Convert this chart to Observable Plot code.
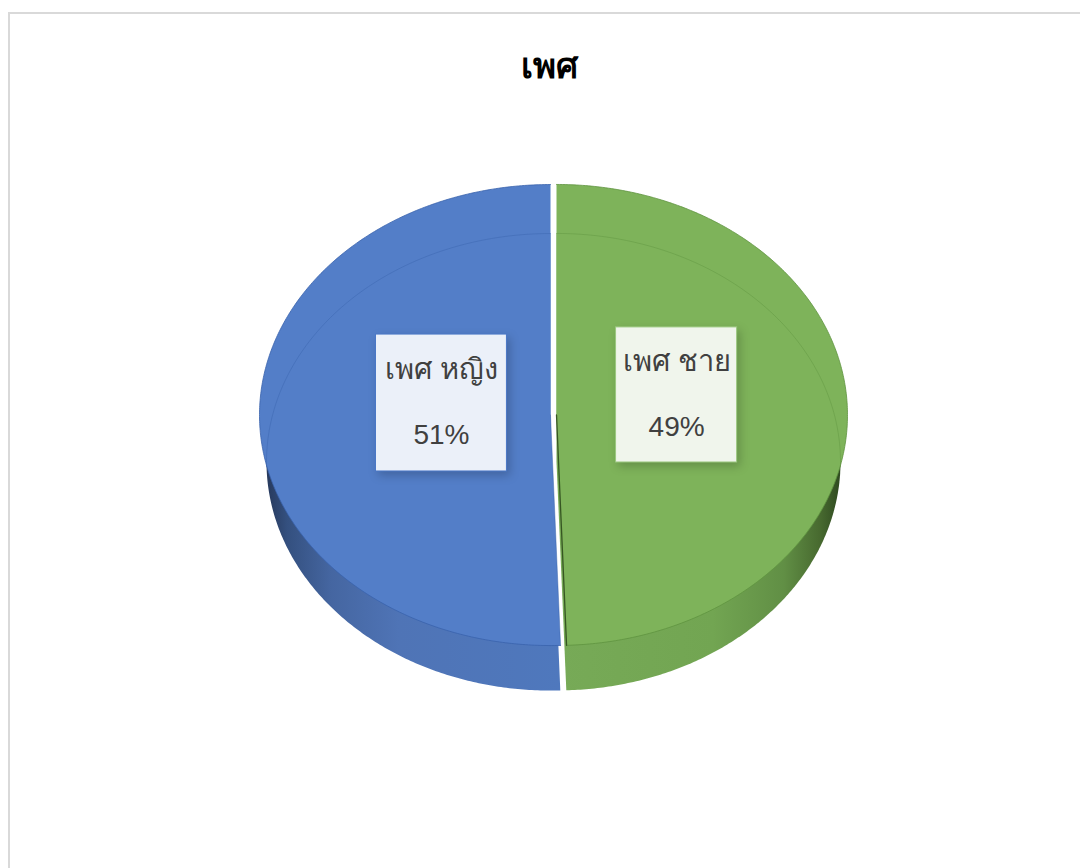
<!DOCTYPE html>
<html lang="th">
<head>
<meta charset="utf-8">
<script src="https://cdn.jsdelivr.net/npm/d3@7"></script>
<script src="https://cdn.jsdelivr.net/npm/@observablehq/plot@0.6"></script>
<style>
  html, body { margin: 0; padding: 0; background: #fff; overflow: hidden; width: 1080px; height: 868px; }
  #frame { position: absolute; left: 8px; top: 12px; width: 1100px; height: 900px; border: 2px solid #d9d9d9; box-sizing: border-box; }
  #title { position: absolute; left: 0; top: 0; width: 1098px; height: 100px; text-align: center; font: bold 35px "Noto Sans", "Liberation Sans", sans-serif; color: #000; line-height: 130px; box-sizing: border-box; }
  #chart { position: absolute; left: 0; top: 100px; }
</style>
</head>
<body>
<div id="frame"></div>
<div id="title">เพศ</div>
<div id="chart"></div>
<script>
// Data, clockwise from twelve o'clock
const categories = ["เพศ ชาย", "เพศ หญิง"];
const shares = [49.45, 50.55];

// Layout of the pie, in chart units where the top face has radius 1
const width = 1080, height = 768;
const cx = 553, cy = 314.5, rx = 291, ry = 230.5;
const explode = 3 / rx;
const lowerRx = 284 / rx, lowerRy = 228.5 / ry, lowerDrop = 47 / ry;
const labelCenterX = [0.423, -0.385];
const labelCenterY = [-0.087, -0.052];
const labelHalfW = [0.208, 0.225];
const labelHalfH = [0.293, 0.297];
const nameDy = -0.146, pctDy = 0.14;

const topFill = ["#7eb35a", "#537ec8"];
const edge = ["#5f9440", "#3a63ad"];
const innerEdge = ["#2f4d1d", "#3560a8"];
const boxFill = ["#f0f5ec", "#ebf0f9"];
const boxStroke = ["#9cc880", "#4a78c6"];
const sideFill = ["url(#sideGreen)", "url(#sideBlue)"];

const arcs = d3.pie().sort(null).startAngle(0).endAngle(2 * Math.PI)(shares);
const slices = arcs.map((a, i) => {
  const mid = (a.startAngle + a.endAngle) / 2;
  return {i, a0: a.startAngle, a1: a.endAngle, dx: Math.sin(mid) * explode, dy: -Math.cos(mid) * explode};
});

function arcPoints(s, from, to, sx, sy, drop) {
  const n = Math.max(2, Math.ceil(Math.abs(to - from) / 0.01));
  return d3.range(n + 1).map(k => {
    const t = from + (to - from) * k / n;
    return {x: s.dx + Math.sin(t) * sx, y: s.dy - Math.cos(t) * sy + drop};
  });
}
function wedge(s, sx, sy, drop) {
  const hub = {x: s.dx, y: s.dy + drop};
  return [hub, ...arcPoints(s, s.a0, s.a1, sx, sy, drop), hub];
}
const fillLine = (pts, fill) => Plot.line(pts, {x: "x", y: "y", fill, stroke: "none"});
const strokeLine = (pts, stroke, strokeWidth, strokeOpacity) =>
  Plot.line(pts, {x: "x", y: "y", stroke, strokeWidth, strokeOpacity});

const gradients = () => {
  const svg = d3.create("svg:g");
  const defs = svg.append("defs");
  const add = (id, stops) => {
    const g = defs.append("linearGradient").attr("id", id);
    stops.forEach(([o, c]) => g.append("stop").attr("offset", o).attr("stop-color", c));
  };
  add("sideBlue", [[0, "#27395c"], [0.07, "#34507f"], [0.22, "#4566a1"], [0.45, "#4f74b6"], [1, "#4f78bd"]]);
  add("sideGreen", [[0, "#77aa57"], [0.55, "#72a552"], [0.8, "#618f45"], [0.93, "#47692f"], [1, "#2f4a20"]]);
  return svg.node();
};

const labelData = categories.map((name, i) => ({
  name, pct: `${Math.round(shares[i])}%`,
  x: labelCenterX[i], y: labelCenterY[i], hw: labelHalfW[i], hh: labelHalfH[i], i
}));
const font = `"Liberation Sans", "Noto Sans", sans-serif`;

const marks = [gradients];
slices.forEach(s => marks.push(fillLine(wedge(s, lowerRx, lowerRy, lowerDrop), sideFill[s.i])));
slices.forEach(s => marks.push(fillLine(wedge(s, 1, 1, 0), topFill[s.i])));
slices.forEach(s => {
  const back = s.i === 0 ? [s.a0, Math.PI / 2 + 0.02] : [1.5 * Math.PI - 0.02, s.a1];
  marks.push(strokeLine(arcPoints(s, back[0], back[1], lowerRx, lowerRy, lowerDrop), edge[s.i], 1, 0.45));
  marks.push(strokeLine(arcPoints(s, s.a0, s.a1, 1, 1, 0), edge[s.i], 1, 0.8));
  const rimAngle = s.i === 0 ? s.a1 : s.a0;
  const rim = {x: s.dx + Math.sin(rimAngle), y: s.dy - Math.cos(rimAngle)};
  marks.push(strokeLine([{x: s.dx, y: s.dy}, rim], innerEdge[s.i], s.i === 0 ? 1.3 : 0.5, 0.9));
});
marks.push(
  Plot.rect(labelData, {
    x1: d => d.x - d.hw, x2: d => d.x + d.hw,
    y1: d => d.y - d.hh, y2: d => d.y + d.hh,
    fill: d => boxFill[d.i], stroke: d => boxStroke[d.i], strokeWidth: 1,
    imageFilter: "drop-shadow(3px 4px 5px rgba(0,0,0,0.2))"
  }),
  Plot.text(labelData, {x: "x", y: d => d.y + nameDy, text: "name", fontSize: 29, fill: "#404040", fontFamily: font}),
  Plot.text(labelData, {x: "x", y: d => d.y + pctDy, text: "pct", fontSize: 28, fill: "#404040", fontFamily: font})
);

const chart = Plot.plot({
  width, height,
  margin: 0,
  style: {background: "transparent", overflow: "visible"},
  x: {type: "linear", domain: [-cx / rx, (width - cx) / rx], range: [0, width], axis: null},
  y: {type: "linear", domain: [-cy / ry, (height - cy) / ry], range: [0, height], axis: null},
  color: {type: "identity"},
  marks
});
document.getElementById("chart").append(chart);
</script>
</body>
</html>
